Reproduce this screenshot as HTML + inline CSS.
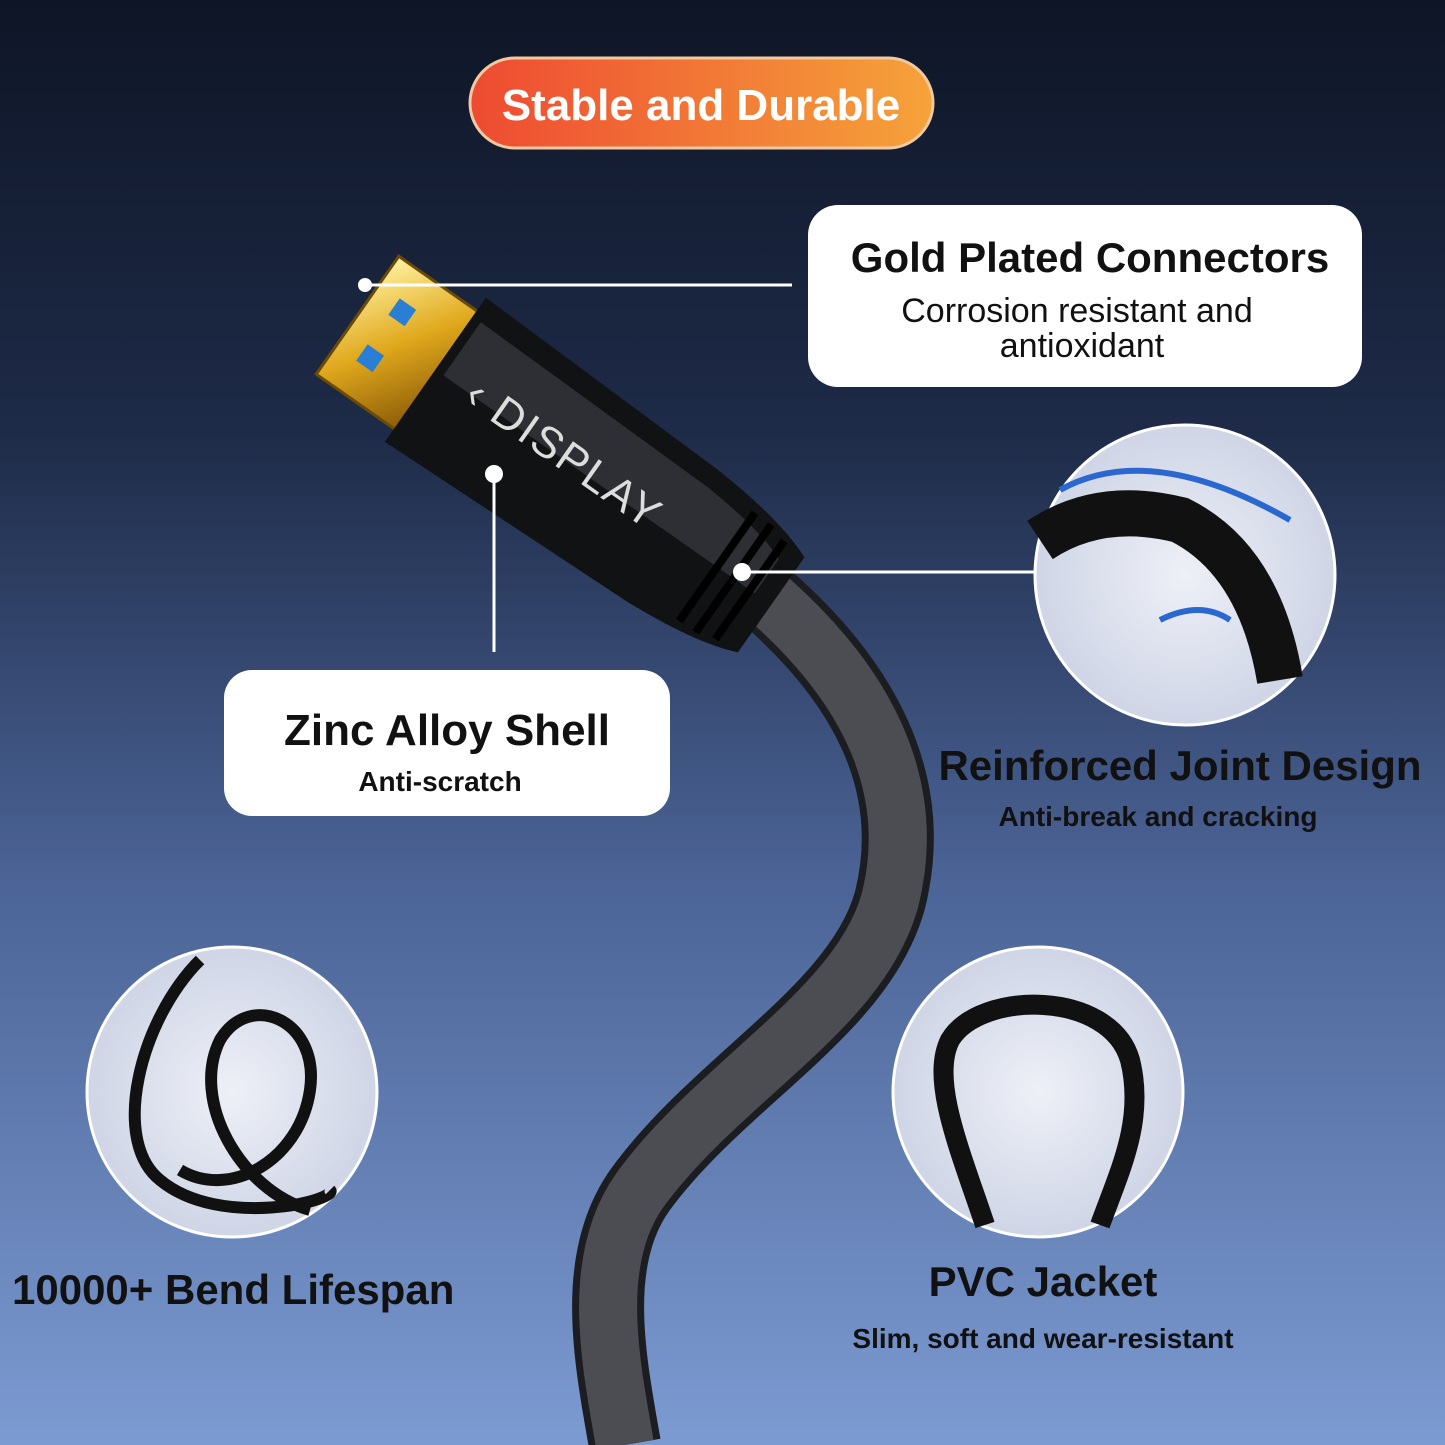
<!DOCTYPE html>
<html><head><meta charset="utf-8"><style>
html,body{margin:0;padding:0;width:1445px;height:1445px;overflow:hidden}
svg{display:block}
text{font-family:"Liberation Sans",sans-serif}
</style></head><body>
<svg width="1445" height="1445" viewBox="0 0 1445 1445" xmlns="http://www.w3.org/2000/svg">
<defs>
<linearGradient id="bg" x1="0" y1="0" x2="0" y2="1">
<stop offset="0" stop-color="#0e1526"/><stop offset="0.3" stop-color="#1e2b48"/>
<stop offset="0.6" stop-color="#4a6294"/><stop offset="1" stop-color="#7c9bd2"/></linearGradient>
<linearGradient id="pill" x1="0" y1="0" x2="1" y2="0">
<stop offset="0" stop-color="#ee4a32"/><stop offset="1" stop-color="#f5a33a"/></linearGradient>
<linearGradient id="gold" x1="0" y1="0" x2="1" y2="1">
<stop offset="0" stop-color="#fff2a0"/><stop offset="0.5" stop-color="#e0a81c"/><stop offset="1" stop-color="#8a5a08"/></linearGradient>
<radialGradient id="circ" cx="0.5" cy="0.5" r="0.5">
<stop offset="0" stop-color="#eef0f7"/><stop offset="1" stop-color="#cfd5e6"/></radialGradient>
</defs>
<rect width="1445" height="1445" fill="url(#bg)"/>
<path d="M770,600 C860,680 920,780 890,900 C860,1010 720,1080 640,1190 C590,1260 610,1360 625,1445" fill="none" stroke="#1c1d21" stroke-width="72"/>
<path d="M770,600 C860,680 920,780 890,900 C860,1010 720,1080 640,1190 C590,1260 610,1360 625,1445" fill="none" stroke="#4b4d53" stroke-width="58"/>
<g transform="translate(550,450) rotate(35)">
<rect x="-235" y="-72" width="100" height="144" fill="url(#gold)" stroke="#6b4a06" stroke-width="3"/>
<rect x="-210" y="-38" width="20" height="20" fill="#2a7fd4"/>
<rect x="-210" y="18" width="20" height="20" fill="#2a7fd4"/>
<path d="M-140,-88 L150,-80 Q230,-75 270,-58 L270,58 Q230,75 150,80 L-140,88 Z" fill="#111214"/>
<path d="M-130,-65 L150,-60 Q220,-55 250,-42 L250,0 L-130,0 Z" fill="#3a3c42" opacity="0.7"/>
<g fill="#000"><rect x="200" y="-66" width="8" height="132"/><rect x="220" y="-66" width="8" height="132"/><rect x="240" y="-60" width="8" height="120"/></g>
<text x="-100" y="10" font-size="44" fill="#ddd" letter-spacing="2">‹ DISPLAY</text>
</g>
<rect x="470" y="58" width="463" height="90" rx="45" fill="url(#pill)" stroke="#f1c9a0" stroke-width="3"/>
<text x="701" y="120" font-size="44" font-weight="bold" fill="#fff" text-anchor="middle">Stable and Durable</text>
<line x1="365" y1="285" x2="792" y2="285" stroke="#fff" stroke-width="3"/>
<circle cx="365" cy="285" r="7" fill="#fff"/>
<rect x="808" y="205" width="554" height="182" rx="30" fill="#fff"/>
<text x="1090" y="272" font-size="42" font-weight="bold" fill="#111" text-anchor="middle">Gold Plated Connectors</text>
<text x="1077" y="322" font-size="34" fill="#111" text-anchor="middle">Corrosion resistant and</text>
<text x="1082" y="357" font-size="34" fill="#111" text-anchor="middle">antioxidant</text>
<line x1="494" y1="474" x2="494" y2="652" stroke="#fff" stroke-width="3"/>
<circle cx="494" cy="474" r="9" fill="#fff"/>
<rect x="224" y="670" width="446" height="146" rx="28" fill="#fff"/>
<text x="447" y="745" font-size="44" font-weight="bold" fill="#111" text-anchor="middle">Zinc Alloy Shell</text>
<text x="440" y="791" font-size="28" font-weight="bold" fill="#111" text-anchor="middle">Anti-scratch</text>
<line x1="742" y1="572" x2="1036" y2="572" stroke="#fff" stroke-width="3"/>
<circle cx="742" cy="572" r="9" fill="#fff"/>
<circle cx="1185" cy="575" r="150" fill="url(#circ)" stroke="#fff" stroke-width="3"/>
<path d="M1040,540 Q1100,500 1180,520 Q1260,560 1280,680" fill="none" stroke="#111" stroke-width="46"/>
<path d="M1060,490 Q1150,440 1290,520" fill="none" stroke="#2a68d0" stroke-width="6"/>
<path d="M1160,620 Q1200,600 1230,620" fill="none" stroke="#2a68d0" stroke-width="6"/>
<text x="1180" y="780" font-size="42" font-weight="bold" fill="#111" text-anchor="middle">Reinforced Joint Design</text>
<text x="1158" y="826" font-size="28" font-weight="bold" fill="#111" text-anchor="middle">Anti-break and cracking</text>
<circle cx="232" cy="1092" r="145" fill="url(#circ)" stroke="#fff" stroke-width="3"/>
<path d="M200,960 C140,1020 110,1140 160,1180 C220,1230 340,1200 330,1190 M180,1170 C230,1200 300,1160 310,1090 C320,1020 250,990 220,1040 C190,1100 240,1190 310,1210" fill="none" stroke="#111" stroke-width="12"/>
<text x="12" y="1304" font-size="42" font-weight="bold" fill="#111">10000+ Bend Lifespan</text>
<circle cx="1038" cy="1092" r="145" fill="url(#circ)" stroke="#fff" stroke-width="3"/>
<path d="M985,1225 C960,1150 930,1080 950,1040 C980,990 1110,990 1130,1060 C1145,1120 1120,1170 1100,1225" fill="none" stroke="#111" stroke-width="20"/>
<text x="1043" y="1296" font-size="42" font-weight="bold" fill="#111" text-anchor="middle">PVC Jacket</text>
<text x="1043" y="1348" font-size="28" font-weight="bold" fill="#111" text-anchor="middle">Slim, soft and wear-resistant</text>
</svg>
</body></html>
